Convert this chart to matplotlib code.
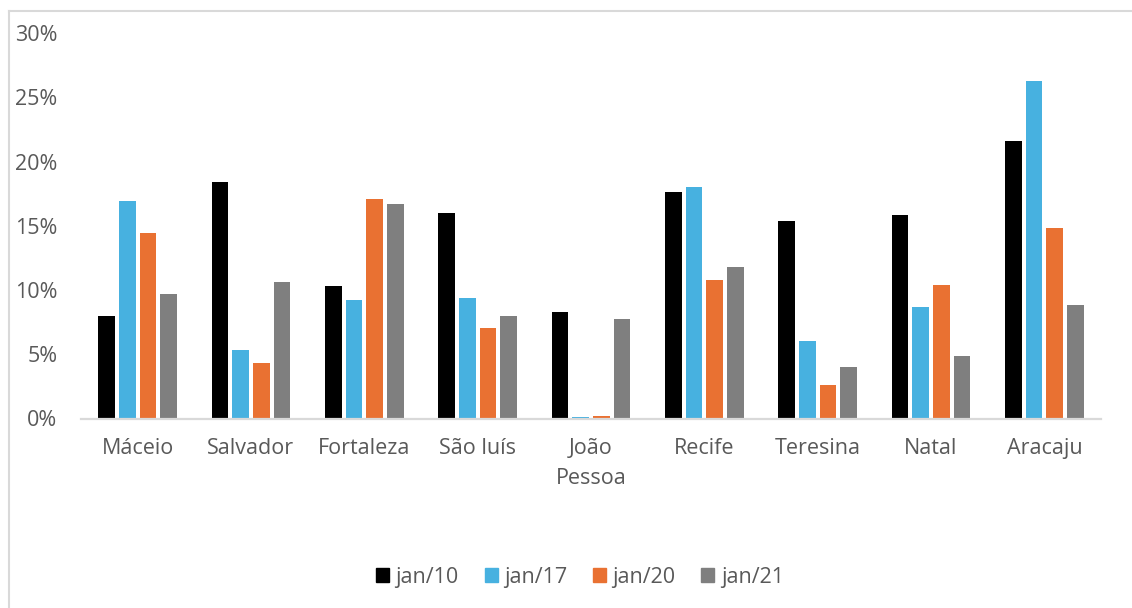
import matplotlib.pyplot as plt
import numpy as np
from matplotlib.lines import Line2D
from matplotlib.patches import Patch
from matplotlib.ticker import FuncFormatter

plt.rcParams['font.family'] = ['Open Sans', 'DejaVu Sans']

cities = ['Máceio', 'Salvador', 'Fortaleza', 'São luís', 'João\nPessoa',
          'Recife', 'Teresina', 'Natal', 'Aracaju']
series_names = ['jan/10', 'jan/17', 'jan/20', 'jan/21']
jan10 = [8.0, 18.4, 10.3, 16.0, 8.3, 17.6, 15.4, 15.8, 21.6]
jan17 = [16.9, 5.35, 9.25, 9.4, 0.13, 18.05, 6.0, 8.7, 26.3]
jan20 = [14.4, 4.35, 17.05, 7.05, 0.16, 10.8, 2.6, 10.4, 14.8]
jan21 = [9.7, 10.6, 16.7, 7.95, 7.75, 11.8, 4.0, 4.85, 8.8]
colors = ['#000000', '#47B1E0', '#E97132', '#7F7F7F']

text_color = '#595959'
fs = 15.5
W, H = 1132, 608
fig = plt.figure(figsize=(W / 100, H / 100), dpi=100)
ax = fig.add_axes([81 / W, 1 - 418.5 / H, 1020 / W, 385.5 / H])

x = np.arange(len(cities))
pitch = 0.183
offsets = (np.arange(4) - 1.5) * pitch
for vals, off, c in zip([jan10, jan17, jan20, jan21], offsets, colors):
    ax.bar(x + off, vals, width=0.148, color=c, edgecolor='none', zorder=2)

ax.set_xlim(-0.5, len(cities) - 0.5)
ax.set_ylim(0, 30)
ax.set_yticks(range(0, 31, 5))
ax.yaxis.set_major_formatter(FuncFormatter(lambda v, _: f'{v:.0f}%'))
ax.set_xticks(x)
ax.set_xticklabels(cities, linespacing=1.55)

for s in ['top', 'right', 'left']:
    ax.spines[s].set_visible(False)
ax.spines['bottom'].set_color('#D9D9D9')
ax.spines['bottom'].set_linewidth(1.6)
ax.tick_params(axis='both', length=0, labelsize=fs, colors=text_color)
ax.tick_params(axis='y', pad=17)
ax.tick_params(axis='x', pad=14)

handles = [Patch(color=c) for c in colors]
fig.legend(handles, series_names, loc='center', bbox_to_anchor=(580 / W, 1 - 577 / H),
           ncol=4, frameon=False, fontsize=fs, labelcolor=text_color,
           handlelength=0.6, handleheight=0.6, handletextpad=0.3, columnspacing=1.2)

# light frame around the chart area
fig.add_artist(Line2D([9 / W, 9 / W], [0, 1 - 11 / H], transform=fig.transFigure,
                      color='#D9D9D9', lw=1.5))
fig.add_artist(Line2D([9 / W, 1], [1 - 11 / H, 1 - 11 / H], transform=fig.transFigure,
                      color='#D9D9D9', lw=1.5))

fig.savefig('out.png', dpi=100, facecolor='white')
